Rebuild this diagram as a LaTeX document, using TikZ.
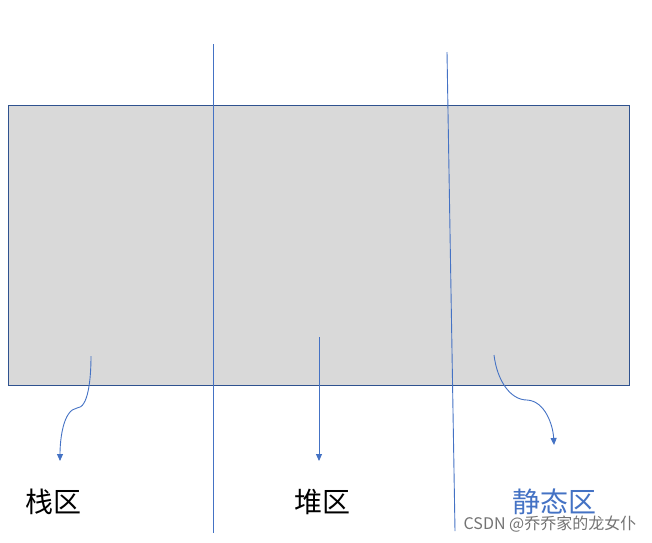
\documentclass[tikz,border=0pt]{standalone}
\usepackage{fontspec}
\newfontfamily\cjk{Noto Sans CJK SC}
\usetikzlibrary{arrows.meta}
\definecolor{zoneblue}{HTML}{4472C4}
\definecolor{boxline}{HTML}{2F528F}
\definecolor{boxfill}{HTML}{D9D9D9}
\tikzset{
  divider/.style={zoneblue,line width=0.9pt},
  pointer/.style={zoneblue,line width=0.9pt,-{Triangle[width=6pt,length=7pt]}},
  zonelabel/.style={font=\cjk\fontsize{28}{30}\selectfont,inner sep=0pt}
}
\begin{document}
\begin{tikzpicture}[x=1pt,y=-1pt]
    \useasboundingbox (0,0) rectangle (652,542);
    %% Memory block
    \draw[boxline,fill=boxfill,line width=0.9pt] (8,105) rectangle (629,385);
    %% Dividers
    \draw[divider] (213,44) -- (213,533);
    \draw[divider] (447,52) -- (455,531);
    %% Labels
    \node[zonelabel] (stack) at (53,502) {栈区};
    \node[zonelabel] (heap) at (322,502) {堆区};
    \node[zonelabel,text=zoneblue] (static) at (554,502) {静态区};
    %% Pointers
    \coordinate (stackfrom) at (91,356);
    \coordinate (stackto) at (60,461);
    \coordinate (heapfrom) at (319,337);
    \coordinate (heapto) at (319,461);
    \coordinate (staticfrom) at (494,355);
    \coordinate (staticto) at (554,445);
    \draw[pointer] (stackfrom) .. controls (91,380) and (88,408) .. (77,408)
        .. controls (63,410) and (60,440) .. (stackto);
    \draw[pointer] (heapfrom) -- (heapto);
    \draw[pointer] (staticfrom) .. controls (497,380) and (510,400) .. (527,400)
        .. controls (545,401) and (553,425) .. (staticto);
    %% Watermark
    \node[font=\cjk\fontsize{16}{18}\selectfont,text=black!55,inner sep=0pt] (mark) at (550,524) {CSDN @乔乔家的龙女仆};
\end{tikzpicture}
\end{document}
